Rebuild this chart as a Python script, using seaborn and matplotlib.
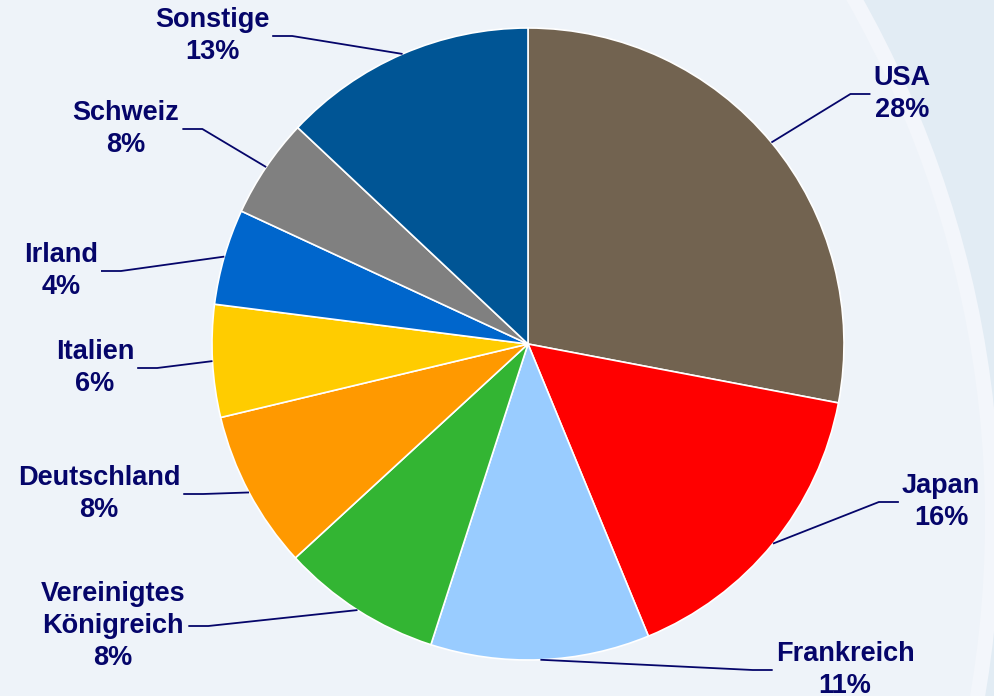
import numpy as np
import matplotlib
matplotlib.use("Agg")
import matplotlib.pyplot as plt
from matplotlib.patches import Ellipse
import seaborn as sns

# ---- data ----
countries = ["USA", "Japan", "Frankreich", "Vereinigtes\nKönigreich", "Deutschland",
             "Italien", "Irland", "Schweiz", "Sonstige"]
shares = [28.0, 15.8, 11.2, 8.2, 8.1, 5.75, 4.9, 5.1, 13.0]
pct_labels = ["28%", "16%", "11%", "8%", "8%", "6%", "4%", "8%", "13%"]
colors = ["#726350", "#FF0000", "#99CCFF", "#33B533", "#FF9900",
          "#FFCC00", "#0066CC", "#808080", "#005595"]

# label block centres (image pixels, y from top)
label_pos = [(902, 94), (941, 502), (845, 670), (113, 626), (99, 494),
             (95, 368), (61, 271), (126, 129), (212, 36)]

W, H = 994, 696
sns.set_theme(style="white")
plt.rcParams['font.family'] = ['Liberation Sans', 'DejaVu Sans']

fig = plt.figure(figsize=(W / 100, H / 100), dpi=100)
fig.patch.set_facecolor("#E2ECF4")

# background shapes
bg = fig.add_axes([0, 0, 1, 1])
bg.set_xlim(0, W); bg.set_ylim(0, H); bg.axis("off")
bg.add_patch(Ellipse((-200, H - 520), 2 * 1200, 2 * 1123, facecolor="#F3F6FB", edgecolor="none"))
bg.add_patch(Ellipse((-200, H - 520), 2 * 1185, 2 * 1108, facecolor="#EEF3F9", edgecolor="none"))

ax = fig.add_axes([0, 0, 1, 1])
ax.set_facecolor("none")
cx, cy, R = 528, H - 344, 316
wedges, _ = ax.pie(shares, colors=colors, startangle=90, counterclock=False,
                   center=(cx, cy), radius=R, frame=False,
                   wedgeprops=dict(edgecolor="white", linewidth=1.2))
ax.set_xlim(0, W); ax.set_ylim(0, H)
ax.set_aspect("auto")
ax.axis("off")

navy = "#05056A"
texts = []
for name, pct, (tx, ty) in zip(countries, pct_labels, label_pos):
    t = ax.text(tx, H - ty, f"{name}\n{pct}", ha="center", va="center",
                fontsize=19.5, fontweight="bold", color=navy, linespacing=1.32)
    texts.append(t)

fig.canvas.draw()
renderer = fig.canvas.get_renderer()
inv = ax.transData.inverted()
for w, t in zip(wedges, texts):
    ang = np.deg2rad((w.theta1 + w.theta2) / 2)
    px, py = cx + R * np.cos(ang), cy + R * np.sin(ang)
    bb = t.get_window_extent(renderer)
    (x0, y0), (x1, y1) = inv.transform([(bb.x0, bb.y0), (bb.x1, bb.y1)])
    ymid = (y0 + y1) / 2
    if px > t.get_position()[0]:
        ex = x1 + 3
        elbow = ex + 20
    else:
        ex = x0 - 3
        elbow = ex - 20
    ax.plot([ex, elbow, px], [ymid, ymid, py], color=navy, lw=1.3,
            solid_capstyle="butt", zorder=5)

fig.savefig("out.png", dpi=100, facecolor=fig.get_facecolor())
